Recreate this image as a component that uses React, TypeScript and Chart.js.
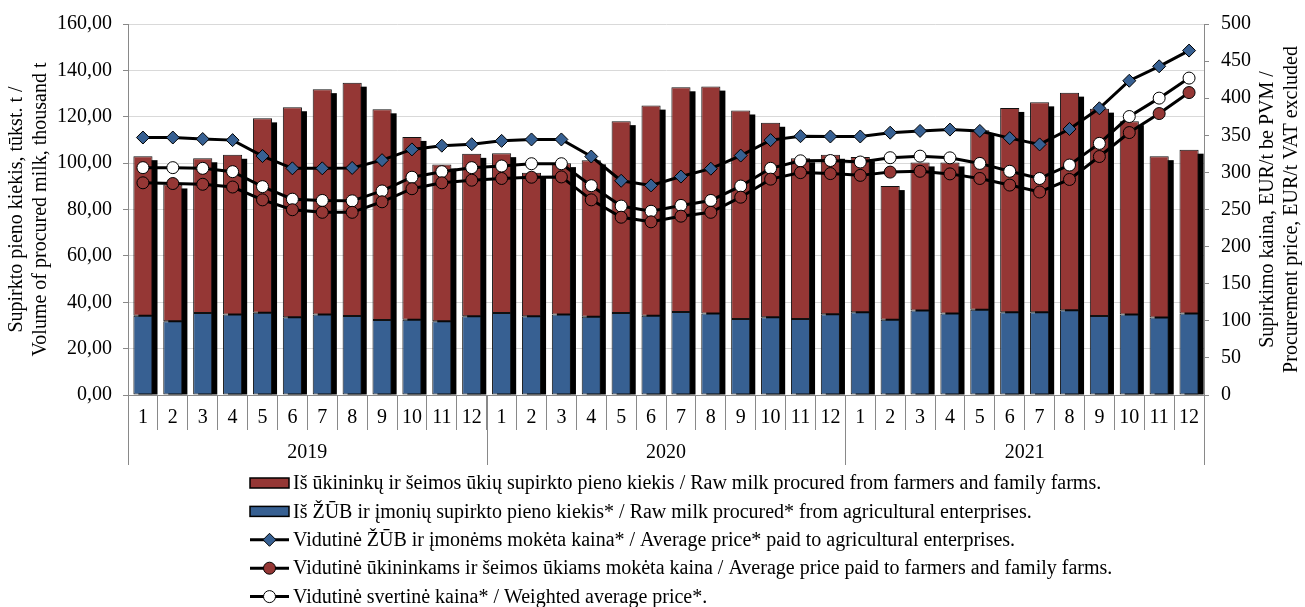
import React, { useEffect, useRef } from 'react';
import { Chart, registerables } from 'chart.js';

Chart.register(...registerables);

// ---------- DATA ----------
const monthLabels = [
  '1', '2', '3', '4', '5', '6', '7', '8', '9', '10', '11', '12',
  '1', '2', '3', '4', '5', '6', '7', '8', '9', '10', '11', '12',
  '1', '2', '3', '4', '5', '6', '7', '8', '9', '10', '11', '12',
];
const yearLabels = ['2019', '2020', '2021'];

// thousand t, procured from agricultural enterprises (bottom of stack)
const enterpriseVolume = [
  34.2, 31.8, 35.4, 34.7, 35.5, 33.5, 34.7, 34.1, 32.3, 32.4, 31.8, 34.0,
  35.4, 34.0, 34.7, 33.7, 35.4, 34.2, 35.8, 35.2, 32.8, 33.5, 32.8, 34.8,
  35.7, 32.5, 36.4, 35.2, 36.8, 35.7, 35.7, 36.5, 34.1, 34.7, 33.4, 35.1,
];
// thousand t, procured from farmers and family farms (top of stack)
const farmerVolume = [
  68.8, 59.0, 66.7, 68.9, 83.8, 90.6, 97.2, 100.6, 90.9, 78.9, 67.6, 70.0,
  68.9, 61.8, 65.3, 67.5, 82.7, 90.6, 96.9, 97.8, 89.9, 83.9, 69.3, 68.8,
  66.9, 57.6, 63.9, 65.1, 77.4, 88.1, 90.5, 93.9, 89.4, 83.4, 69.6, 70.7,
];
// EUR/t
const enterprisePrice = [
  347, 347, 345, 343.5, 322, 305.5, 305.5, 306, 316.5, 331, 336, 338,
  342.5, 344.4, 344.4, 321.4, 288.7, 282.5, 294.4, 305, 322.7, 343.5, 348.8, 348.4,
  348.4, 353.5, 355.9, 357.7, 355.9, 346.2, 337.7, 358.5, 386.4, 423.5, 443, 464.2,
];
const farmerPrice = [
  286, 285, 284, 280.3, 263, 249.7, 246.2, 246.2, 260.4, 278, 286, 289.5,
  291.8, 293.5, 293.9, 263, 239.6, 233.4, 241, 246.2, 266.6, 290.9, 299.7, 298.4,
  296, 300.4, 301.5, 298, 291.8, 282.9, 273.6, 290.5, 321.4, 353.7, 379.3, 407.6,
];
const weightedPrice = [
  306.4, 306.4, 305.5, 301, 280.8, 263.9, 262.2, 261.7, 275, 293.5, 301, 306.4,
  308.6, 311.7, 311.7, 282.1, 254.6, 247.6, 255.5, 262.2, 281.6, 305.5, 315.6, 316,
  314, 319.8, 321.9, 319.6, 312.1, 301.5, 291.8, 309.9, 339.1, 375.3, 400.1, 427.1,
];

const leftTitle = ['Supirkto pieno kiekis, tūkst. t /', 'Volume of procured milk, thousand t'];
const rightTitle = ['Supirkimo kaina, EUR/t be PVM /', 'Procurement price, EUR/t VAT excluded'];

const legendLabels = [
  'Iš ūkininkų ir šeimos ūkių supirkto pieno kiekis / Raw milk procured from farmers and family farms.',
  'Iš ŽŪB ir įmonių supirkto pieno kiekis* / Raw milk procured* from agricultural enterprises.',
  'Vidutinė ŽŪB ir įmonėms mokėta kaina* / Average price* paid to agricultural enterprises.',
  'Vidutinė ūkininkams ir šeimos ūkiams mokėta kaina / Average price paid to farmers and family farms.',
  'Vidutinė svertinė kaina* / Weighted average price*.',
];

// ---------- STYLE ----------
const RED = '#953735';
const BLUE = '#376092';
const AXIS = '#898989';
const GRID = '#d9d9d9';
const FONT_FAMILY = '"Liberation Serif", "Times New Roman", serif';
const FONT_SIZE = 20;
const FONT = `${FONT_SIZE}px ${FONT_FAMILY}`;

function drawMarker(ctx: CanvasRenderingContext2D, style: string, x: number, y: number, r: number, fill: string) {
  ctx.save();
  ctx.beginPath();
  if (style === 'rectRot') {
    ctx.moveTo(x, y - r);
    ctx.lineTo(x + r, y);
    ctx.lineTo(x, y + r);
    ctx.lineTo(x - r, y);
    ctx.closePath();
  } else {
    ctx.arc(x, y, r, 0, Math.PI * 2);
  }
  ctx.fillStyle = fill;
  ctx.fill();
  ctx.lineWidth = 1;
  ctx.strokeStyle = '#000';
  ctx.stroke();
  ctx.restore();
}

const shadowPlugin = {
  id: 'barShadow',
  beforeDatasetsDraw(chart: any) {
    const ctx = chart.ctx;
    const blueMeta = chart.getDatasetMeta(3);
    const redMeta = chart.getDatasetMeta(4);
    ctx.save();
    ctx.fillStyle = '#000';
    redMeta.data.forEach((bar: any, i: number) => {
      const base = blueMeta.data[i].base;
      const w = bar.width;
      const top = bar.y + 4;
      ctx.fillRect(bar.x - w / 2 + 5, top, w, base - top);
    });
    ctx.restore();
  },
};

const decorPlugin = {
  id: 'decor',
  afterDraw(chart: any) {
    const ctx: CanvasRenderingContext2D = chart.ctx;
    const xs = chart.scales.x;
    const area = chart.chartArea;
    const n = monthLabels.length;
    const catW = (xs.right - xs.left) / n;
    ctx.save();
    // year separators and labels
    ctx.strokeStyle = AXIS;
    ctx.lineWidth = 1;
    for (let g = 0; g <= yearLabels.length; g++) {
      const idx = Math.min(g * 12, n - 1);
      let px = xs.getPixelForValue(idx) - catW / 2;
      if (g * 12 >= n) px = xs.getPixelForValue(n - 1) + catW / 2;
      px = Math.round(px) + 0.5;
      ctx.beginPath();
      ctx.moveTo(px, xs.top);
      ctx.lineTo(px, xs.top + 70);
      ctx.stroke();
    }
    ctx.fillStyle = '#000';
    ctx.font = FONT;
    ctx.textAlign = 'center';
    ctx.textBaseline = 'middle';
    yearLabels.forEach((yl, g) => {
      const a = xs.getPixelForValue(g * 12);
      const b = xs.getPixelForValue(g * 12 + 11);
      ctx.fillText(yl, (a + b) / 2, xs.top + 58);
    });

    // axis titles
    const cy = (area.top + area.bottom) / 2;
    const lh = 23.5;
    const drawRot = (lines: string[], x0: number) => {
      lines.forEach((t, i) => {
        ctx.save();
        ctx.translate(x0 + i * lh, cy);
        ctx.rotate(-Math.PI / 2);
        ctx.fillText(t, 0, 0);
        ctx.restore();
      });
    };
    drawRot(leftTitle, 17);
    drawRot(rightTitle, 1268);

    // legend
    const lx = 250;
    const lw = 39;
    const ty = xs.top + 88;
    const step = 28.4;
    ctx.textAlign = 'left';
    legendLabels.forEach((label, i) => {
      const y = ty + i * step;
      const ds = chart.data.datasets[[4, 3, 0, 1, 2][i]];
      if (i < 2) {
        ctx.fillStyle = ds.backgroundColor;
        ctx.fillRect(lx, y - 5, lw, 10);
        ctx.strokeStyle = '#000';
        ctx.lineWidth = 1.5;
        ctx.strokeRect(lx, y - 5, lw, 10);
      } else {
        ctx.strokeStyle = '#000';
        ctx.lineWidth = 3;
        ctx.beginPath();
        ctx.moveTo(lx, y);
        ctx.lineTo(lx + lw, y);
        ctx.stroke();
        drawMarker(ctx, ds.pointStyle, lx + lw / 2, y, ds.pointRadius, ds.pointBackgroundColor);
      }
      ctx.fillStyle = '#000';
      ctx.fillText(label, lx + lw + 4, y + 1);
    });
    ctx.restore();
  },
};

export default function App() {
  const canvasRef = useRef<HTMLCanvasElement | null>(null);

  useEffect(() => {
    if (!canvasRef.current) return;
    const lineCommon = {
      type: 'line' as const,
      yAxisID: 'y1',
      borderColor: '#000',
      borderWidth: 3,
      tension: 0,
      pointBorderColor: '#000',
      pointBorderWidth: 1,
      fill: false,
    };
    const chart = new Chart(canvasRef.current, {
      type: 'bar',
      data: {
        labels: monthLabels,
        datasets: [
          {
            ...lineCommon,
            label: legendLabels[2],
            data: enterprisePrice,
            pointStyle: 'rectRot',
            pointRadius: 6.5,
            pointBackgroundColor: BLUE,
          } as any,
          {
            ...lineCommon,
            label: legendLabels[3],
            data: farmerPrice,
            pointStyle: 'circle',
            pointRadius: 6,
            pointBackgroundColor: RED,
          } as any,
          {
            ...lineCommon,
            label: legendLabels[4],
            data: weightedPrice,
            pointStyle: 'circle',
            pointRadius: 6,
            pointBackgroundColor: '#ffffff',
          } as any,
          {
            type: 'bar',
            label: legendLabels[1],
            data: enterpriseVolume,
            backgroundColor: BLUE,
            borderColor: '#111',
            borderWidth: 1,
            borderSkipped: false,
            stack: 'vol',
            yAxisID: 'y',
            barPercentage: 0.64,
            categoryPercentage: 1,
          },
          {
            type: 'bar',
            label: legendLabels[0],
            data: farmerVolume,
            backgroundColor: RED,
            borderColor: '#111',
            borderWidth: 1,
            borderSkipped: false,
            stack: 'vol',
            yAxisID: 'y',
            barPercentage: 0.64,
            categoryPercentage: 1,
          },
        ],
      },
      options: {
        animation: false,
        responsive: true,
        maintainAspectRatio: false,
        events: [],
        layout: { padding: { top: 18, left: 0, right: 0, bottom: 142 } },
        plugins: {
          legend: { display: false },
          tooltip: { enabled: false },
          title: { display: false },
        },
        scales: {
          x: {
            offset: true,
            grid: {
              offset: true,
              drawOnChartArea: false,
              tickLength: 35,
              color: AXIS,
              tickColor: AXIS,
            },
            border: { color: AXIS, width: 1 },
            ticks: {
              autoSkip: false,
              maxRotation: 0,
              minRotation: 0,
              padding: -24,
              color: '#000',
              font: { family: FONT_FAMILY, size: FONT_SIZE },
            },
            afterFit(scale: any) {
              scale.height = 70;
            },
          },
          y: {
            position: 'left',
            stacked: true,
            min: 0,
            max: 160,
            ticks: {
              stepSize: 20,
              padding: 11,
              color: '#000',
              font: { family: FONT_FAMILY, size: FONT_SIZE },
              callback: (v: any) => Number(v).toFixed(2).replace('.', ','),
            },
            grid: { color: GRID, tickColor: AXIS, tickLength: 5, lineWidth: 1 },
            border: { color: AXIS, width: 1 },
            afterFit(scale: any) {
              scale.width = 128;
            },
          },
          y1: {
            position: 'right',
            min: 0,
            max: 500,
            ticks: {
              stepSize: 50,
              padding: 12,
              color: '#000',
              font: { family: FONT_FAMILY, size: FONT_SIZE },
            },
            grid: { drawOnChartArea: false, tickColor: AXIS, tickLength: 5 },
            border: { color: AXIS, width: 1 },
            afterFit(scale: any) {
              scale.width = 101;
            },
          },
        },
      },
      plugins: [shadowPlugin, decorPlugin],
    } as any);
    return () => chart.destroy();
  }, []);

  return (
    <div style={{ position: 'absolute', left: 0, top: 0, width: 1305, height: 607, background: '#fff' }}>
      <canvas ref={canvasRef} />
    </div>
  );
}
